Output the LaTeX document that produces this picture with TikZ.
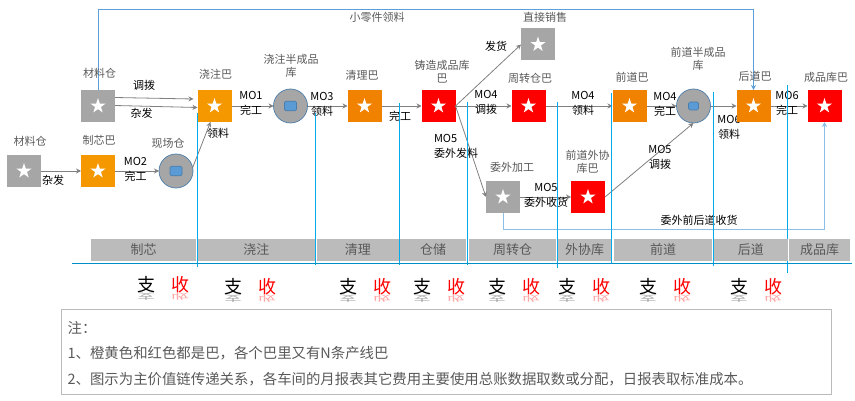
\documentclass[tikz,border=0pt]{standalone}
\usepackage{fontspec}
\setmainfont{Noto Sans CJK SC}
\usepackage{tikz}
\usetikzlibrary{arrows.meta,positioning,shapes.geometric}
\definecolor{barorange}{RGB}{240,130,0}
\definecolor{coreorange}{RGB}{245,152,0}
\definecolor{stockgrey}{RGB}{166,166,166}
\definecolor{flowgrey}{RGB}{128,128,128}
\definecolor{titlegrey}{RGB}{89,89,89}
\definecolor{stripgrey}{RGB}{187,187,187}
\definecolor{routeblue}{RGB}{91,160,220}
\definecolor{routelight}{RGB}{140,190,232}
\definecolor{divblue}{RGB}{0,170,235}
\definecolor{ringblue}{RGB}{75,125,170}
\definecolor{chipblue}{RGB}{91,155,213}
\newcommand{\sz}[2]{\fontsize{#1}{#2}\selectfont}

\begin{document}
\begin{tikzpicture}[x=1pt, y=-1pt,
  whitestar/.style={star, star points=5, star point ratio=2.6, fill=white, draw=none,
                    minimum size=16pt, inner sep=0pt, anchor=center},
  chip/.style={rectangle, draw=ringblue, fill=chipblue, rounded corners=1.5pt, line width=0.7pt,
               minimum width=#1, minimum height=0.8*#1, inner sep=0pt, anchor=center},
  barbox/.style={fill=#1, minimum width=34pt, minimum height=32pt, inner sep=0pt, outer sep=0pt,
                 path picture={\node[whitestar] at (path picture bounding box.center) {};}},
  hub/.style={circle, draw=ringblue, fill=stockgrey, line width=0.7pt, minimum size=34pt,
              inner sep=0pt, outer sep=0pt,
              path picture={\node[chip=#1] at (path picture bounding box.center) {};}},
  arr/.style={-{Stealth[length=5pt,width=5pt]}, line width=0.8pt, color=flowgrey},
  route/.style={-{Stealth[length=5pt,width=5pt]}, line width=0.9pt, color=routeblue},
  divider/.style={line width=0.8pt, color=divblue},
  title/.style={font=\sz{11}{13}, text=titlegrey, align=center, inner sep=0pt},
  tag/.style={font=\sz{11}{15}, text=black, align=center, inner sep=0pt},
  strip/.style={fill=stripgrey, minimum width=#1, minimum height=22pt, inner sep=0pt,
                font=\sz{13}{15}, text=titlegrey},
  zhi/.style={font=\sz{18}{18}, text=black, inner sep=0pt,
              label={[font=\sz{18}{18}, text=black!35, inner sep=0pt, label distance=-1pt]below:\scalebox{1}[-0.45]{支}}},
  shou/.style={font=\sz{18}{18}, text=red, inner sep=0pt,
               label={[font=\sz{18}{18}, text=red!35, inner sep=0pt, label distance=-1pt]below:\scalebox{1}[-0.45]{收}}},
  note/.style={font=\sz{14.4}{16}, text=titlegrey, anchor=west, inner sep=0pt}]
\useasboundingbox (0,0) rectangle (855,401);
% text hidden behind the back bar
\node[tag] (t14) at (729,127) {MO6\\领料};
% top row
\node[barbox=stockgrey] (wm) at (98,106) {};
\node[barbox=coreorange, right=82.5pt of wm] (jz) {};
\node[hub=12pt, right=42pt of jz] (jb) {};
\node[barbox=barorange, right=40pt of jb] (ql) {};
\node[barbox=red, right=40pt of ql] (zz) {};
\node[barbox=red, right=56pt of zz] (zg) {};
\node[barbox=barorange, right=67pt of zg] (qd) {};
\node[hub=10pt, right=30pt of qd] (qb) {};
\node[barbox=barorange, right=26pt of qb] (hd) {};
\node[barbox=red, right=37pt of hd] (cp) {};
% lower row
\node[barbox=stockgrey] (wl) at (24,171) {};
\node[barbox=coreorange] (zx) at (98,171) {};
\node[hub=12pt] (xc) at (176,171) {};
\node[barbox=stockgrey] (zs) at (538,44.5) {};
\node[barbox=stockgrey] (wj) at (503,197) {};
\node[barbox=red] (wx) at (588,197) {};
% flows
\draw[arr] ([yshift=8.5pt]wm.east) -- ([xshift=-4pt,yshift=7pt]jz.west);
\draw[arr] ([yshift=0.5pt]wm.east) -- ([yshift=-1.5pt]jz.west);
\draw[arr] (wl) -- (zx);
\draw[arr] (zx) -- (xc);
\draw[arr] ([xshift=-0.5pt,yshift=3pt]xc.east) -- ([xshift=-4pt]jz.south);
\draw[arr] (jz) -- (jb);
\draw[arr] (jb) -- (ql);
\draw[arr] (ql) -- (zz);
\draw[arr] (zz) -- (zg);
\draw[arr] (zz.east) -- (zs.west);
\draw[arr] (zz.east) -- (wj.west);
\draw[arr] (wj) -- (wx);
\draw[arr] (zg) -- (qd);
\draw[arr] (qd) -- (qb);
\draw[arr] (wx.east) -- (qb.south);
\draw[arr] (qb) -- (hd);
\draw[arr] (hd) -- (cp);
% blue routes
\coordinate (toproute) at (0,9);
\coordinate (lowroute) at (0,229.5);
\draw[route] (wm.north) -- (wm.north |- toproute) -- (hd.north |- toproute) -- (hd.north);
\draw[route, color=routelight] (wj.south) -- (wj.south |- lowroute) -- (cp.south |- lowroute) -- (cp.south);
% names of the boxes
\node[title] (n1) at (99.5,73) {材料仓};
\node[title] (n2) at (215.5,74) {浇注巴};
\node[title] (n3) at (291,65.5) {浇注半成品\\库};
\node[title] (n4) at (30,141) {材料仓};
\node[title] (n5) at (99,140) {制芯巴};
\node[title] (n6) at (168,143) {现场仓};
\node[title] (n7) at (362,75) {清理巴};
\node[title] (n8) at (442,71.5) {铸造成品库\\巴};
\node[title] (n9) at (530,78) {周转仓巴};
\node[title] (n10) at (545,17) {直接销售};
\node[title] (n11) at (512,167) {委外加工};
\node[title] (n12) at (587.5,161.5) {前道外协\\库巴};
\node[title] (n13) at (632,77) {前道巴};
\node[title] (n14) at (698,58.5) {前道半成品\\库};
\node[title] (n15) at (755,76) {后道巴};
\node[title] (n16) at (826,77) {成品库巴};
\node[title] (n17) at (377,17) {小零件领料};
% flow labels
\node[tag] (t1) at (144,85) {调拨};
\node[tag] (t2) at (141.5,113) {杂发};
\node[tag] (t3) at (53,180) {杂发};
\node[tag] (t4) at (135.5,169.5) {MO2\\完工};
\node[tag] (t5) at (218,133) {领料};
\node[tag] (t6) at (251,103.5) {MO1\\完工};
\node[tag] (t7) at (322,104.5) {MO3\\领料};
\node[tag] (t8) at (400,116) {完工};
\node[tag] (t9) at (486,102.5) {MO4\\调拨};
\node[tag] (t10) at (496,46) {发货};
\node[tag, align=left] (t11) at (456,146.5) {MO5\\委外发料};
\node[tag] (t12) at (546,195.5) {MO5\\委外收货};
\node[tag] (t13) at (583,103.5) {MO4\\领料};
\node[tag] (t15) at (665,104) {MO4\\完工};
\node[tag] (t16) at (660,157.5) {MO5\\调拨};
\node[tag] (t17) at (787,103) {MO6\\完工};
\node[tag] (t18) at (699,220) {委外前后道收货};
% dividers
\draw[divider] (197,113) -- (197,267);
\draw[divider] (315.5,113) -- (315.5,265);
\draw[divider] (399.5,103) -- (399.5,265);
\draw[divider] (467.5,102) -- (467.5,265);
\draw[divider] (557,102) -- (557,268);
\draw[divider] (611,93) -- (611,263);
\draw[divider] (713,92) -- (713,266);
\draw[divider] (787.5,85) -- (787.5,273);
% workshop strip
\node[strip=105pt] (s1) at (143.5,250) {制芯};
\node[strip=117.5pt] (s2) at (256.25,250) {浇注};
\node[strip=82.5pt] (s3) at (357.75,250) {清理};
\node[strip=66pt] (s4) at (433,250) {仓储};
\node[strip=87pt] (s5) at (512.5,250) {周转仓};
\node[strip=53pt] (s6) at (584.5,250) {外协库};
\node[strip=98pt] (s7) at (663,250) {前道};
\node[strip=73.5pt] (s8) at (750.75,250) {后道};
\node[strip=61pt] (s9) at (819.5,250) {成品库};
\draw[line width=0.8pt, color=divblue!85!black] (72,263.5) -- (852,263.5);
% pay and receive
\node[zhi] (z1) at (146,285) {支};
\node[shou] (g1) at (180,285) {收};
\node[zhi] (z2) at (233,287) {支};
\node[shou] (g2) at (267,287) {收};
\node[zhi] (z3) at (348,287) {支};
\node[shou] (g3) at (382,287) {收};
\node[zhi] (z4) at (422,287) {支};
\node[shou] (g4) at (456,287) {收};
\node[zhi] (z5) at (497,287) {支};
\node[shou] (g5) at (531,287) {收};
\node[zhi] (z6) at (567,287) {支};
\node[shou] (g6) at (601,287) {收};
\node[zhi] (z7) at (648,287) {支};
\node[shou] (g7) at (682,287) {收};
\node[zhi] (z8) at (739,287) {支};
\node[shou] (g8) at (773,287) {收};
% note
\node[draw=stripgrey, line width=0.8pt, minimum width=770pt, minimum height=85pt, anchor=north west, inner sep=0pt] (notebox) at (61,309) {};
\node[note] (l1) at (67.5,328) {注：};
\node[note] (l2) at (67.5,353) {1、橙黄色和红色都是巴，各个巴里又有N条产线巴};
\node[note] (l3) at (67.5,379) {2、图示为主价值链传递关系，各车间的月报表其它费用主要使用总账数据取数或分配，日报表取标准成本。};
\end{tikzpicture}
\end{document}
